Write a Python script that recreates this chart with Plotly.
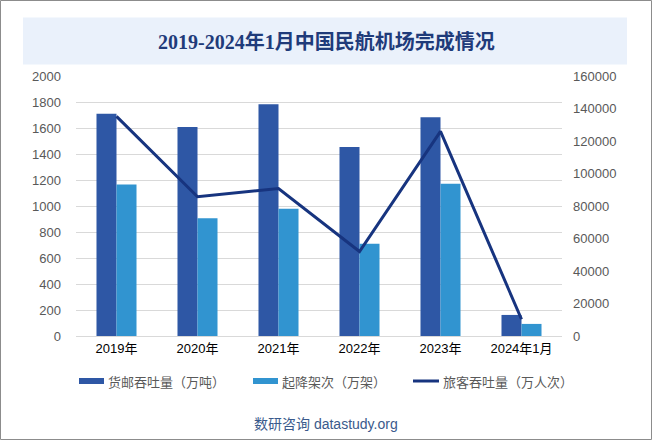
import plotly.graph_objects as go

categories = ["2019年", "2020年", "2021年", "2022年", "2023年", "2024年1月"]
cargo = [1710, 1607, 1783, 1453, 1683, 162]
flights = [1166, 905, 978, 710, 1171, 93]
passengers = [135163, 85716, 90748, 52003, 125976, 10300]

names = ["货邮吞吐量（万吨）", "起降架次（万架）", "旅客吞吐量（万人次）"]
c_dark = "#2E57A5"
c_light = "#3194D0"
c_line = "#17347F"

W, H = 652, 440
L, R, T, B = 76, 562, 76, 336

def px(x):
    return (x - L) / (R - L)

def py(y):
    return (B - y) / (B - T)

fig = go.Figure()
fig.add_trace(go.Bar(x=categories, y=cargo, name=names[0], marker=dict(color=c_dark, line=dict(width=0)),
                     showlegend=False))
fig.add_trace(go.Bar(x=categories, y=flights, name=names[1], marker=dict(color=c_light, line=dict(width=0)),
                     showlegend=False))
fig.add_trace(go.Scatter(x=categories, y=passengers, name=names[2], yaxis="y2", mode="lines",
                         line=dict(color=c_line, width=3), showlegend=False))

shapes = [
    # outer border
    dict(type="rect", xref="paper", yref="paper", x0=px(0.5), x1=px(651.5), y0=py(439.5), y1=py(0.5),
         line=dict(color="#8C8C8C", width=1), fillcolor="rgba(0,0,0,0)", layer="below"),
    # title box
    dict(type="rect", xref="paper", yref="paper", x0=px(23), x1=px(627), y0=py(64.5), y1=py(17.5),
         line=dict(width=0), fillcolor="#EAF1FB", layer="below"),
    # legend swatches
    dict(type="rect", xref="paper", yref="paper", x0=px(79), x1=px(104), y0=py(384), y1=py(378),
         line=dict(width=0), fillcolor=c_dark),
    dict(type="rect", xref="paper", yref="paper", x0=px(253), x1=px(278), y0=py(384), y1=py(378),
         line=dict(width=0), fillcolor=c_light),
    dict(type="line", xref="paper", yref="paper", x0=px(413), x1=px(439), y0=py(381), y1=py(381),
         line=dict(color=c_line, width=3)),
]

annotations = [
    dict(text="<b>2019-2024年1月中国民航机场完成情况</b>", xref="paper", yref="paper", x=px(326), y=py(41),
         showarrow=False, xanchor="center", yanchor="middle",
         font=dict(family="Liberation Serif, Noto Sans CJK SC", size=20, color="#1F3B7A")),
    dict(text=names[0], xref="paper", yref="paper", x=px(106), y=py(381), showarrow=False,
         xanchor="left", yanchor="middle", font=dict(family="Noto Sans CJK SC", size=13, color="#595959")),
    dict(text=names[1], xref="paper", yref="paper", x=px(280), y=py(381), showarrow=False,
         xanchor="left", yanchor="middle", font=dict(family="Noto Sans CJK SC", size=13, color="#595959")),
    dict(text=names[2], xref="paper", yref="paper", x=px(441), y=py(381), showarrow=False,
         xanchor="left", yanchor="middle", font=dict(family="Noto Sans CJK SC", size=13, color="#595959")),
    dict(text="数研咨询 datastudy.org", xref="paper", yref="paper", x=px(326), y=py(424), showarrow=False,
         xanchor="center", yanchor="middle", font=dict(family="Liberation Sans, Noto Sans CJK SC", size=14, color="#3A5A8C")),
]

fig.update_layout(
    width=W, height=H,
    margin=dict(l=L, r=W - R, t=T, b=H - B, pad=0),
    paper_bgcolor="white", plot_bgcolor="white",
    barmode="group", bargap=0.506, bargroupgap=0,
    font=dict(family="Liberation Sans, Noto Sans CJK SC", size=13, color="#595959"),
    xaxis=dict(showgrid=False, showline=True, linecolor="#D9D9D9", ticks="",
               tickfont=dict(color="#000000", size=13, family="Liberation Sans, Noto Sans CJK SC")),
    yaxis=dict(range=[0, 2000], dtick=200, showgrid=True, gridcolor="#D9D9D9", gridwidth=1,
               zeroline=False, ticks="", ticklabelstandoff=14, tickfont=dict(color="#595959", size=13)),
    yaxis2=dict(range=[0, 160000], dtick=20000, tickformat="d", overlaying="y", side="right", showgrid=False,
                zeroline=False, ticks="", ticklabelstandoff=10, tickfont=dict(color="#595959", size=13)),
    shapes=shapes,
    annotations=annotations,
)

fig.write_html("out.html", config={"displayModeBar": False},
               post_script="document.body.style.margin='0';document.body.style.overflow='hidden';")
